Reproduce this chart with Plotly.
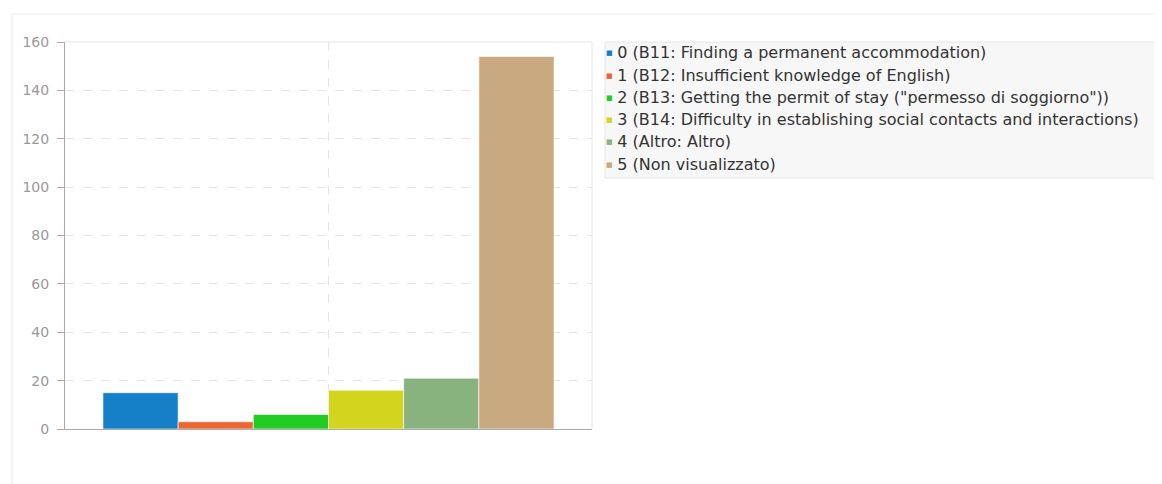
import plotly.graph_objects as go

categories = [""]
labels = [
    "0 (B11: Finding a permanent accommodation)",
    "1 (B12: Insufficient knowledge of English)",
    "2 (B13: Getting the permit of stay (\"permesso di soggiorno\"))",
    "3 (B14: Difficulty in establishing social contacts and interactions)",
    "4 (Altro: Altro)",
    "5 (Non visualizzato)",
]
counts = [15, 3, 6, 16, 21, 154]
colors = ["#1580c8", "#ec6535", "#22cc22", "#d2d41d", "#88b37f", "#c9a97f"]
y_ticks = [0, 20, 40, 60, 80, 100, 120, 140, 160]

# page has an 8px body margin, so work in figure coords
W, H = 1154, 476
L, R, T, B = 57, 584, 34, 421

def px(x):
    return (x - L) / (R - L)

def py(y):
    return (B - y) / (B - T)

fig = go.Figure()

for lab, val, col in zip(labels, counts, colors):
    fig.add_trace(go.Bar(
        x=categories, y=[val], name=lab,
        marker=dict(color=col, line=dict(color="rgba(255,255,255,0.6)", width=1)),
        showlegend=False,
    ))
    # legend entry with a small coloured square in the text
    fig.add_trace(go.Scatter(
        x=[None], y=[None], mode="markers",
        name=(f'<span style="color:{col};font-size:7px;baseline-shift:3px">■</span> '
              f'<span style="font-size:16px">{lab}</span>'),
        marker=dict(size=1, color="rgba(0,0,0,0)"),
    ))

fig.update_layout(
    width=W, height=H,
    margin=dict(l=L, r=W - R, t=T, b=H - B),
    paper_bgcolor="white",
    plot_bgcolor="#f8f8f8",
    font=dict(family="DejaVu Sans", size=14, color="#333333"),
    barmode="group",
    bargap=0.144,
    bargroupgap=0,
    showlegend=True,
    legend=dict(
        x=px(558), y=py(28.5), xanchor="left", yanchor="top",
        bgcolor="rgba(0,0,0,0)", borderwidth=0,
        font=dict(size=14.8, color="#333333"),
        itemwidth=30,
    ),
    xaxis=dict(
        range=[-0.5, 0.5], showticklabels=False, ticks="",
        showgrid=True, gridcolor="#e4e4e4", griddash="dash",
        showline=True, linecolor="#aaaaaa", linewidth=1,
        zeroline=False, fixedrange=True,
    ),
    yaxis=dict(
        range=[0, 160], tickvals=y_ticks,
        ticks="outside", ticklen=7, tickcolor="#aaaaaa",
        ticklabelstandoff=5,
        tickfont=dict(size=14, color="#999999"),
        showgrid=True, gridcolor="#e4e4e4", griddash="dash",
        showline=True, linecolor="#aaaaaa", linewidth=1,
        zeroline=False,
    ),
    shapes=[
        # outer card
        dict(type="rect", xref="paper", yref="paper", layer="below",
             x0=px(4), x1=px(1170), y0=py(490), y1=py(6),
             line=dict(color="#ebebeb", width=1), fillcolor="white"),
        # legend box
        dict(type="rect", xref="paper", yref="paper", layer="below",
             x0=px(597), x1=px(1149), y0=py(170), y1=py(34),
             line=dict(color="#e6e6e6", width=1), fillcolor="#f7f7f7"),
        # light top/right plot border
        dict(type="line", xref="paper", yref="paper",
             x0=0, x1=1, y0=1, y1=1, line=dict(color="#e6e6e6", width=1)),
        dict(type="line", xref="paper", yref="paper",
             x0=1, x1=1, y0=0, y1=1, line=dict(color="#e6e6e6", width=1)),
    ],
)

fig.write_html("out.html")
